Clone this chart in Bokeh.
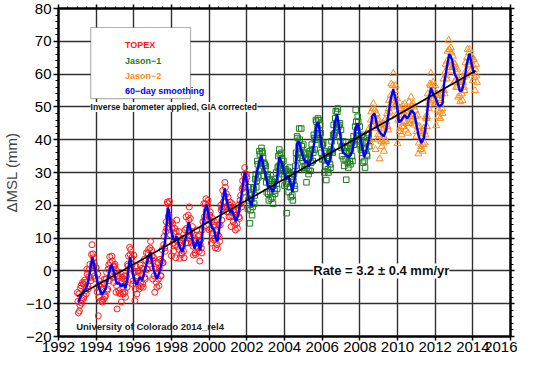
import numpy as np
from bokeh.plotting import figure
from bokeh.models import (LinearAxis, SingleIntervalTicker, Label, BoxAnnotation,
                          Range1d, CustomJSTickFormatter)
from bokeh.embed import file_html
from bokeh.resources import INLINE

# ---------------- data ----------------
STEP = 1.0 / 18.0  # spacing of the listed points in each list (years); "_b" lists sit half a step later

topex_start = 1993.0
topex_vals = [
    -6.6, -12.8, -12.2, -5.3, -9.8, -3.5, -8.4, -2.8, -6.0, 0.5, -4.5, -1.8, 2.0, -3.0, 8.0, 5.2, 2.4, -2.3,
    1.0, -6.5, -13.7, -3.0, -9.2, -4.0, -9.5, -8.6, -2.5, -7.5, -0.5, -5.5, 1.8, 4.3, -1.5, 4.5, -2.0, 1.2,
    2.0, -6.5, -11.6, -1.0, -6.8, -0.5, -9.5, -2.0, -7.0, -1.5, -8.0, -1.5, 2.0, 4.5, 7.2, 6.5, 4.0, -4.0,
    4.8, -9.1, 1.5, -7.0, 0.0, -5.5, 1.8, -4.8, 0.8, -5.0, 3.5, -2.5, 5.5, 0.5, 6.5, 2.0, 9.0, 6.3,
    -2.5, 4.0, -6.5, 1.0, -5.0, 2.5, -4.5, 3.5, -1.5, 6.5, 2.5, 10.5, 6.0, 15.0, 21.0, 16.5, 21.2, 11.0,
    4.6, 14.5, 6.0, 13.0, 4.0, 15.5, 7.5, 12.0, 3.8, 9.5, 5.5, 10.0, 4.0, 12.5, 16.5, 8.5, 17.0, 19.5,
    16.0, 8.5, 13.5, 4.8, 10.0, 5.0, 12.5, 7.0, 11.0, 3.0, 9.5, 5.5, 15.0, 20.5, 15.5, 22.0, 17.5, 21.5,
    12.5, 18.0, 8.5, 16.0, 9.5, 15.0, 7.0, 12.5, 6.8, 14.0, 9.0, 20.0, 15.5, 24.5, 19.5, 27.0, 21.0, 18.0,
    22.5, 16.5, 21.0, 13.5, 20.5, 15.0, 18.0, 12.5, 17.0, 13.0, 20.0, 16.0, 23.0, 19.5, 27.5, 24.0, 31.5, 27.0,
    28.5,
]
topex_vals_b = [
    -9.3, -7.0, -10.5, -4.5, -8.8, -4.0, -7.8, -3.5, -7.0, -1.0, -5.5, 0.5, -2.0, 5.0, 2.0, 4.0, -1.5, 1.0,
    -5.0, -1.0, -8.0, -4.5, -5.0, -9.0, -5.5, -3.8, -8.0, -2.5, -6.0, 0.5, -3.0, 2.5, -1.0, 3.0, -3.5, 1.5,
    0.5, -4.5, -1.5, -6.0, -2.0, -7.0, -3.0, -6.5, -2.5, -6.5, -3.0, -5.0, 1.5, 0.5, 5.0, 1.0, 2.0, -3.0,
    -0.5, -5.5, -2.0, -1.5, -4.5, 0.0, -3.8, -1.0, -4.0, 0.5, -2.0, 3.0, 0.5, 5.5, 3.0, 7.0, 3.5, 4.5,
    3.0, -1.5, 0.5, -3.5, -0.5, -2.5, 1.0, -1.5, 3.0, 2.5, 8.0, 7.0, 12.0, 13.0, 20.5, 17.0, 14.5, 15.0,
    13.0, 8.5, 11.5, 8.0, 12.0, 9.0, 10.5, 6.5, 8.5, 5.0, 7.5, 6.0, 10.0, 8.5, 13.0, 11.0, 15.5, 12.0,
    10.5, 12.0, 7.5, 9.0, 5.5, 9.5, 7.5, 10.5, 6.0, 8.0, 7.0, 12.5, 13.5, 16.5, 20.5, 18.5, 20.0, 15.5,
    17.0, 13.0, 15.0, 11.5, 14.0, 10.0, 12.0, 8.0, 11.0, 10.5, 14.0, 18.5, 19.0, 21.0, 23.0, 25.5, 23.5, 19.5,
    18.0, 20.0, 16.5, 19.5, 16.5, 18.5, 14.0, 17.0, 14.5, 18.5, 16.5, 21.5, 20.5, 25.0, 25.5, 29.5, 28.0, 29.5,
]

jason1_start = 2002.056
jason1_vals = [
    19.0, 25.5, 14.5, 23.5, 17.0, 25.5, 20.5, 28.0, 25.5, 33.5, 28.5, 36.5, 31.0, 37.5, 36.0, 29.0, 32.5,
    32.0, 24.0, 29.5, 21.5, 28.0, 22.0, 27.5, 20.5, 27.0, 23.5, 30.0, 25.0, 35.0, 37.0, 31.5, 36.0, 29.5, 33.5,
    26.0, 31.0, 17.6, 30.5, 24.0, 31.5, 22.5, 28.0, 21.5, 29.5, 25.0, 36.0, 41.0, 35.5, 43.4, 34.5, 43.4, 31.5,
    38.5, 31.0, 36.0, 27.0, 35.5, 29.5, 36.5, 30.5, 38.5, 33.5, 41.5, 37.0, 46.0, 42.0, 46.5, 40.5, 44.5, 36.0,
    34.0, 39.0, 30.0, 36.5, 27.7, 35.0, 30.0, 36.0, 31.5, 39.5, 36.0, 44.5, 42.0, 48.7, 44.0, 49.5, 41.0, 45.0,
    43.0, 35.0, 39.5, 32.0, 38.0, 27.8, 37.5, 31.5, 36.5, 32.5, 39.0, 33.5, 41.0, 38.5, 49.1, 42.0, 47.0, 40.0,
    44.0, 37.0, 41.5, 33.0, 37.5, 31.5, 39.0, 35.0, 42.0, 38.0,
]
jason1_vals_b = [
    21.5, 23.0, 18.5, 22.0, 19.5, 25.0, 23.0, 29.5, 27.5, 32.5, 30.5, 35.5, 33.0, 36.5, 34.5, 33.0, 30.5,
    27.0, 28.5, 23.5, 27.5, 24.0, 26.5, 22.5, 26.0, 24.5, 28.0, 26.5, 31.5, 32.0, 35.5, 32.5, 34.0, 30.5, 28.5,
    30.5, 26.5, 29.5, 27.0, 30.0, 25.5, 27.0, 23.0, 27.5, 26.0, 32.0, 34.0, 40.5, 38.0, 40.0, 36.0, 38.0, 33.5,
    36.0, 32.0, 34.5, 31.5, 34.0, 30.5, 34.5, 33.0, 37.0, 36.0, 40.5, 40.0, 45.5, 43.5, 46.0, 41.5, 42.0, 38.5,
    38.5, 34.0, 36.0, 32.0, 34.5, 31.0, 34.0, 32.5, 37.0, 36.5, 41.5, 41.5, 46.5, 45.0, 48.5, 44.0, 44.5, 39.5,
    37.5, 38.0, 34.0, 37.5, 34.0, 36.5, 33.0, 36.0, 33.5, 37.0, 35.0, 39.5, 38.5, 44.0, 45.5, 43.0, 45.5, 41.0,
    39.5, 41.0, 36.0, 37.5, 33.5, 37.0, 35.5, 39.5, 41.5,
]

jason2_start = 2008.5
jason2_vals = [
    43.5, 39.0, 48.5, 44.0, 51.0, 46.0, 37.0, 48.0, 40.0,
    46.0, 34.2, 44.5, 38.0, 45.0, 36.5, 46.0, 39.5, 48.0, 43.0, 52.0, 47.0, 57.0, 51.5, 60.2, 50.0, 56.5, 47.5,
    38.8, 50.0, 42.5, 49.5, 41.5, 50.5, 44.0, 51.0, 43.0, 49.5, 42.0, 51.5, 45.0, 53.0, 46.0, 51.0, 44.5, 49.0,
    41.0, 47.5, 35.7, 44.0, 37.0, 42.0, 36.5, 43.5, 39.0, 47.0, 44.0, 54.0, 49.5, 57.0, 60.2, 52.0, 57.5, 50.5,
    56.5, 44.3, 54.0, 47.0, 53.5, 46.5, 54.0, 48.0, 58.5, 54.0, 63.0, 58.5, 67.0, 70.3, 62.0, 68.0, 61.0, 65.5,
    57.5, 63.0, 56.0, 61.5, 53.0, 58.0, 51.6, 57.5, 52.0, 59.0, 55.0, 63.5, 60.0, 67.5, 62.5, 67.5, 61.0, 65.0,
    58.0, 64.5, 55.0, 63.0, 57.5,
]
jason2_vals_b = [
    40.0, 46.0, 44.5, 49.5, 45.5, 49.0, 43.5, 46.0, 41.5,
    41.0, 44.5, 39.5, 43.0, 39.0, 43.5, 40.0, 45.5, 44.0, 49.5, 48.5, 53.5, 52.0, 56.5, 53.0, 55.0, 50.5, 52.5,
    46.0, 47.5, 43.5, 47.5, 44.0, 48.5, 45.5, 49.0, 45.0, 48.5, 45.0, 49.5, 47.0, 50.5, 47.0, 50.0, 45.5, 47.0,
    42.5, 44.0, 39.0, 42.5, 38.0, 41.0, 38.5, 42.5, 41.5, 46.5, 47.0, 52.5, 51.5, 56.5, 54.0, 56.5, 52.5, 54.5,
    51.0, 53.5, 49.0, 52.5, 48.5, 52.0, 49.5, 55.5, 55.0, 60.5, 59.5, 64.0, 62.5, 67.5, 64.0, 66.5, 62.0, 63.5,
    62.0, 58.0, 60.5, 56.0, 58.5, 53.5, 56.5, 54.0, 57.5, 56.0, 60.5, 59.5, 65.0, 63.0, 66.5, 64.0, 65.5, 60.5,
    62.5, 59.0, 61.5, 59.5,
]

smooth_years = [
    1993.05, 1993.15, 1993.33, 1993.45, 1993.56, 1993.68, 1993.80, 1993.92, 1994.03, 1994.15, 1994.29, 1994.40,
    1994.50, 1994.62, 1994.72, 1994.81, 1994.90, 1994.98, 1995.10, 1995.20, 1995.32, 1995.45, 1995.56, 1995.66,
    1995.75, 1995.81, 1995.90, 1996.00, 1996.16, 1996.30, 1996.45, 1996.55, 1996.71, 1996.80, 1996.88, 1996.96,
    1997.05, 1997.15, 1997.23, 1997.32, 1997.40, 1997.50, 1997.58, 1997.66, 1997.74, 1997.80, 1997.86, 1997.92,
    1998.00, 1998.09, 1998.18, 1998.26, 1998.35, 1998.44, 1998.58, 1998.68, 1998.79, 1998.91, 1999.04, 1999.13,
    1999.22, 1999.32, 1999.40, 1999.52, 1999.62, 1999.74, 1999.86, 1999.95, 2000.05, 2000.17, 2000.27, 2000.35,
    2000.44, 2000.53, 2000.61, 2000.72, 2000.83, 2000.92, 2001.00, 2001.13, 2001.22, 2001.30, 2001.42, 2001.56,
    2001.65, 2001.73, 2001.82, 2001.90, 2002.00, 2002.10, 2002.25, 2002.38, 2002.51, 2002.65, 2002.77, 2002.90,
    2003.03, 2003.12, 2003.20, 2003.38, 2003.50, 2003.60, 2003.72, 2003.82, 2003.90, 2004.07, 2004.20, 2004.30,
    2004.42, 2004.54, 2004.62, 2004.68, 2004.76, 2004.85, 2004.94, 2005.10, 2005.20, 2005.29, 2005.45, 2005.58,
    2005.71, 2005.80, 2005.88, 2005.97, 2006.06, 2006.15, 2006.32, 2006.42, 2006.50, 2006.60, 2006.67, 2006.79,
    2006.88, 2006.97, 2007.10, 2007.25, 2007.40, 2007.52, 2007.62, 2007.72, 2007.79, 2007.88, 2007.97, 2008.05,
    2008.15, 2008.23, 2008.32, 2008.40, 2008.50, 2008.58, 2008.66, 2008.78, 2008.86, 2008.92, 2009.00, 2009.10,
    2009.27, 2009.40, 2009.52, 2009.66, 2009.78, 2009.87, 2009.96, 2010.08, 2010.22, 2010.32, 2010.40, 2010.50,
    2010.58, 2010.75, 2010.89, 2011.00, 2011.13, 2011.26, 2011.40, 2011.52, 2011.64, 2011.78, 2011.92, 2012.04,
    2012.13, 2012.21, 2012.30, 2012.39, 2012.47, 2012.56, 2012.65, 2012.74, 2012.82, 2012.91, 2013.03, 2013.17,
    2013.30, 2013.42, 2013.55, 2013.68, 2013.82, 2013.94, 2014.06,
]
smooth_vals = [
    -9.5, -8.0, -6.2, -5.5, -3.8, 0.0, 4.2, 1.0, -2.4, -5.0, -7.2, -6.5,
    -5.5, -2.5, 0.5, 1.9, 0.5, -1.4, -4.0, -3.5, -4.8, -4.0, -5.3, -2.0,
    2.5, 4.2, 1.0, -2.4, -4.3, -2.0, -2.8, -0.5, 2.9, 4.5, 5.8, 3.0,
    0.5, -1.5, -2.4, -1.0, 0.5, 3.0, 7.0, 9.0, 14.0, 19.3, 18.5, 15.5,
    12.0, 9.7, 9.5, 10.5, 9.0, 7.2, 5.8, 8.0, 11.0, 14.9, 12.0, 9.0,
    6.8, 8.5, 9.5, 6.3, 10.0, 17.8, 20.2, 17.5, 14.9, 13.0, 12.5, 10.0,
    9.0, 12.5, 16.9, 21.5, 25.1, 22.0, 19.8, 17.8, 18.5, 17.0, 15.1, 17.5,
    20.5, 23.6, 27.5, 30.0, 27.0, 22.0, 19.8, 24.0, 29.4, 33.0, 35.2, 31.5,
    28.4, 25.5, 26.0, 24.1, 26.0, 28.0, 34.7, 33.5, 32.0, 28.0, 29.0, 27.0,
    24.1, 28.0, 34.0, 39.0, 39.5, 37.5, 35.7, 33.0, 33.5, 31.8, 35.0, 39.0,
    44.8, 45.3, 42.0, 38.0, 36.0, 34.0, 32.3, 34.0, 36.8, 41.0, 45.0, 47.7,
    44.5, 41.0, 36.1, 35.5, 34.6, 35.5, 37.0, 41.0, 43.8, 45.0, 42.5, 40.0,
    37.0, 34.7, 36.0, 38.0, 40.5, 44.0, 47.2, 48.0, 46.0, 43.8, 43.0, 42.0,
    41.0, 43.0, 47.7, 53.0, 55.4, 53.0, 51.0, 45.3, 46.0, 47.0, 47.5, 46.5,
    47.0, 49.0, 48.0, 44.8, 41.0, 39.0, 40.5, 45.0, 52.0, 55.8, 53.6, 52.5,
    51.0, 50.1, 50.5, 51.0, 57.0, 60.0, 63.1, 66.0, 65.5, 64.0, 60.2, 58.5,
    54.9, 55.0, 58.0, 63.1, 66.3, 63.0, 60.2,
]

trend_years = [1993.0, 2014.15]
trend_vals = [-7.7, 61.0]

x_ticks_interval = 2
y_ticks_interval = 10

legend_labels = ["TOPEX", "Jason\u22121", "Jason\u22122", "60\u2212day smoothing"]

# ---------------- styling ----------------
RED = "#ff1a1a"
GREEN = "#1d7d1d"
ORANGE = "#ff8c1a"
BLUE = "#0000ff"
FONT = "Liberation Sans"
GRID = "#303030"


def series_years(start, vals, offset=0.0):
    return start + (np.arange(len(vals)) + offset) * STEP


p = figure(width=517, height=356, x_range=Range1d(1992, 2016), y_range=Range1d(-20, 80),
           output_backend="svg", toolbar_location=None,
           min_border_left=48, min_border_right=7, min_border_top=8, min_border_bottom=20,
           background_fill_color="white", border_fill_color="white",
           outline_line_color="black", outline_line_width=2)

xt = SingleIntervalTicker(interval=x_ticks_interval, num_minor_ticks=0)
yt = SingleIntervalTicker(interval=y_ticks_interval, num_minor_ticks=5)

xa = p.xaxis[0]
xa.ticker = xt
ya = p.yaxis[0]
ya.ticker = yt
for ax in (xa, ya):
    ax.axis_line_width = 2
    ax.major_tick_line_width = 1.5
    ax.minor_tick_line_width = 1
    ax.major_tick_in = 0
    ax.minor_tick_in = 0
    ax.major_label_text_font = FONT
    ax.major_label_text_font_size = "15px"
    ax.major_label_text_color = "black"
xa.major_tick_out = 4
xa.minor_tick_out = 0
xa.major_label_standoff = 1
ya.major_tick_out = 5
ya.minor_tick_out = 3
ya.major_label_standoff = 2
ya.axis_label = "\u0394MSL (mm)"
ya.axis_label_text_font = FONT
ya.axis_label_text_font_size = "15px"
ya.axis_label_text_font_style = "normal"
ya.axis_label_standoff = 3

blank = CustomJSTickFormatter(code="return ''")
top = LinearAxis(ticker=SingleIntervalTicker(interval=x_ticks_interval, num_minor_ticks=4),
                 formatter=blank, major_tick_in=0, major_tick_out=4,
                 minor_tick_in=0, minor_tick_out=2, axis_line_width=2,
                 major_tick_line_width=1.5, major_label_standoff=0)
right = LinearAxis(ticker=SingleIntervalTicker(interval=y_ticks_interval, num_minor_ticks=5),
                   formatter=blank, major_tick_in=0, major_tick_out=4,
                   minor_tick_in=0, minor_tick_out=3, axis_line_width=2,
                   major_tick_line_width=1.5, major_label_standoff=0)
p.add_layout(top, "above")
p.add_layout(right, "right")

p.xgrid.ticker = xt
p.ygrid.ticker = yt
for g in (p.xgrid, p.ygrid):
    g.grid_line_color = GRID
    g.grid_line_width = 1.4
    g.grid_line_alpha = 1.0

# scatter series
series = [
    (topex_start, topex_vals, topex_vals_b, "circle", 6.0, RED),
    (jason1_start, jason1_vals, jason1_vals_b, "square", 5.5, GREEN),
    (jason2_start, jason2_vals, jason2_vals_b, "triangle", 7.0, ORANGE),
]
for start, va, vb, mk, sz, col in series:
    xs = np.concatenate([series_years(start, va), series_years(start, vb, 0.5)])
    ys = np.concatenate([va, vb])
    p.scatter(xs, ys, marker=mk, size=sz, fill_color=None, line_color=col, line_width=1.0)

# smoothing + trend
p.line(smooth_years, smooth_vals, line_color=BLUE, line_width=2.4)
p.line(trend_years, trend_vals, line_color="black", line_width=1.6)

# ---- legend (drawn manually) ----
leg_box = dict(left=1993.71, right=1999.01, top=74.2, bottom=52.5)
p.add_layout(BoxAnnotation(left=leg_box["left"], right=leg_box["right"], top=leg_box["top"],
                           bottom=leg_box["bottom"], fill_color="white", fill_alpha=1.0,
                           line_color="black", line_width=1.2, level="overlay"))
key_x = 1994.29
text_x = 1995.53
key_rows = [70.1, 65.0, 60.4, 55.9]
text_rows = [68.9, 64.1, 59.5, 54.9]
colors = [RED, GREEN, ORANGE, BLUE]
for i in range(3):
    r = p.scatter([key_x], [key_rows[i]], marker=series[i][3], size=series[i][4], fill_color=None,
                  line_color=colors[i], line_width=1.1)
    r.level = "overlay"
kl = p.line([key_x - 0.26, key_x + 0.26], [key_rows[3], key_rows[3]], line_color=BLUE, line_width=2.5)
kl.level = "overlay"
for i in range(4):
    p.add_layout(Label(x=text_x, y=text_rows[i], text=legend_labels[i], text_color=colors[i],
                       text_font=FONT, text_font_size="9px", text_font_style="bold",
                       text_align="left", text_baseline="middle", level="overlay"))

# ---- annotations ----
p.add_layout(Label(x=1998.13, y=50, text="Inverse barometer applied, GIA corrected",
                   text_font=FONT, text_font_size="8.5px", text_font_style="bold",
                   text_color="#111111", text_align="center", text_baseline="middle",
                   background_fill_color="white", background_fill_alpha=1.0))
p.add_layout(Label(x=2009.14, y=0, text="Rate = 3.2 \u00b1 0.4 mm/yr",
                   text_font=FONT, text_font_size="13px", text_font_style="bold",
                   text_color="#111111", text_align="center", text_baseline="middle",
                   background_fill_color="white", background_fill_alpha=1.0))
p.add_layout(Label(x=1992.94, y=-17.1, text="University of Colorado 2014_rel4",
                   text_font=FONT, text_font_size="9.5px", text_font_style="bold",
                   text_color="#222222", text_align="left", text_baseline="middle"))

open("out.html", "w").write(file_html(p, INLINE))
